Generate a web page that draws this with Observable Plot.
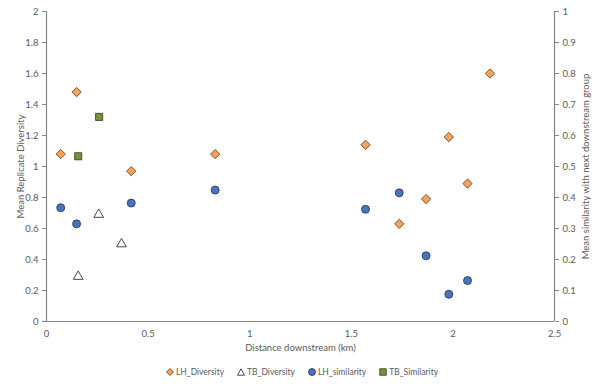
<!DOCTYPE html>
<html>
<head>
<meta charset="utf-8">
<script src="https://cdn.jsdelivr.net/npm/d3@7"></script>
<script src="https://cdn.jsdelivr.net/npm/@observablehq/plot@0.6"></script>
<style>
  html, body { margin: 0; padding: 0; background: #fff; }
  #chart { width: 600px; }
  .legend { display: flex; justify-content: center; gap: 13px; font: 8.5px Lato, "Open Sans", sans-serif; color: #595959; margin-top: 9px; margin-left: 4px; }
  .legend span { display: inline-flex; align-items: center; gap: 2px; }
  .legend svg { overflow: visible; }
</style>
</head>
<body>
<div id="chart"></div>
<script>
// Distances (km) and values
const lhDist = [0.070, 0.148, 0.417, 0.830, 1.570, 1.736, 1.868, 1.980, 2.072, 2.183];
const lhDiversity = [1.08, 1.48, 0.97, 1.08, 1.14, 0.63, 0.79, 1.19, 0.89, 1.60];
const lhSimDist = [0.070, 0.148, 0.417, 0.830, 1.570, 1.736, 1.868, 1.980, 2.072];
const lhSimilarity = [0.367, 0.315, 0.382, 0.424, 0.362, 0.415, 0.212, 0.088, 0.132];
const tbDist = [0.156, 0.257, 0.369];
const tbDiversity = [0.29, 0.69, 0.50];
const tbSimDist = [0.156, 0.259];
const tbSimilarity = [0.533, 0.660];

const xTicks = [0, 0.5, 1, 1.5, 2, 2.5];
const yLeftTicks = [0, 0.2, 0.4, 0.6, 0.8, 1, 1.2, 1.4, 1.6, 1.8, 2];
const yRightTicks = [0, 0.1, 0.2, 0.3, 0.4, 0.5, 0.6, 0.7, 0.8, 0.9, 1];

const seriesNames = ["LH_Diversity", "TB_Diversity", "LH_similarity", "TB_Similarity"];

const lhDiv = lhDist.map((x, i) => ({x, v: lhDiversity[i]}));
const lhSim = lhSimDist.map((x, i) => ({x, v: lhSimilarity[i]}));
const tbDiv = tbDist.map((x, i) => ({x, v: tbDiversity[i]}));
const tbSim = tbSimDist.map((x, i) => ({x, v: tbSimilarity[i]}));

// secondary axis: similarity 0..1 mapped onto primary 0..2
const sec = v => v * 2;
const axisColor = "#858585";
const textColor = "#595959";

const chart = Plot.plot({
  width: 600,
  height: 358,
  marginLeft: 46,
  marginRight: 46,
  marginTop: 11,
  marginBottom: 37,
  style: {fontFamily: "Lato, 'Open Sans', sans-serif", fontSize: "9.5px", color: textColor, background: "#fff"},
  x: {domain: [0, 2.5]},
  y: {domain: [0, 2]},
  marks: [
    Plot.axisX({ticks: xTicks, tickSize: 0, tickPadding: 9, tickFormat: d => String(d),
      label: "Distance downstream (km)", labelAnchor: "center", labelOffset: 29, labelArrow: false}),
    Plot.axisY({ticks: yLeftTicks, tickSize: 4, tickPadding: 4, stroke: axisColor, tickFormat: d => String(d),
      label: "Mean Replicate Diversity", labelAnchor: "center", labelOffset: 29, labelArrow: false}),
    Plot.axisY({anchor: "right", ticks: yRightTicks.map(sec), tickSize: 4, tickPadding: 4, stroke: axisColor,
      tickFormat: d => String(+(d / 2).toFixed(1)),
      label: "Mean similarity with next downstream group", labelAnchor: "center", labelOffset: 34, labelArrow: false}),
    Plot.ruleY([0], {stroke: axisColor, strokeWidth: 1.2}),
    Plot.ruleX([0], {stroke: axisColor, strokeWidth: 1.2}),
    Plot.ruleX([2.5], {stroke: axisColor, strokeWidth: 1.2}),
    Plot.dot(lhDiv, {x: "x", y: "v", symbol: "diamond2", r: 4.2, fill: "#F4A259", stroke: "#5a3a1a", strokeWidth: 0.8}),
    Plot.dot(tbDiv, {x: "x", y: "v", symbol: "triangle", r: 3.6, fill: "#fff", stroke: "#333", strokeWidth: 0.9}),
    Plot.dot(lhSim, {x: "x", y: d => sec(d.v), symbol: "circle", r: 4, fill: "#4A74BE", stroke: "#1f3050", strokeWidth: 0.8}),
    Plot.dot(tbSim, {x: "x", y: d => sec(d.v), symbol: "square", r: 4, fill: "#76933C", stroke: "#2a3a14", strokeWidth: 0.8})
  ]
});
document.getElementById("chart").appendChild(chart);

// legend
const legendDefs = [
  {name: seriesNames[0], shape: '<path d="M4 0.5 L7.5 4 L4 7.5 L0.5 4 Z" fill="#F4A259" stroke="#5a3a1a" stroke-width="0.8"/>'},
  {name: seriesNames[1], shape: '<path d="M4 0.8 L7.5 7.2 L0.5 7.2 Z" fill="#fff" stroke="#333" stroke-width="0.9"/>'},
  {name: seriesNames[2], shape: '<circle cx="4" cy="4" r="3.5" fill="#4A74BE" stroke="#1f3050" stroke-width="0.8"/>'},
  {name: seriesNames[3], shape: '<rect x="0.8" y="0.8" width="6.4" height="6.4" fill="#76933C" stroke="#2a3a14" stroke-width="0.8"/>'}
];
const legend = document.createElement("div");
legend.className = "legend";
legend.innerHTML = legendDefs.map(d => `<span><svg width="8" height="8">${d.shape}</svg>${d.name}</span>`).join("");
document.getElementById("chart").appendChild(legend);
</script>
</body>
</html>
